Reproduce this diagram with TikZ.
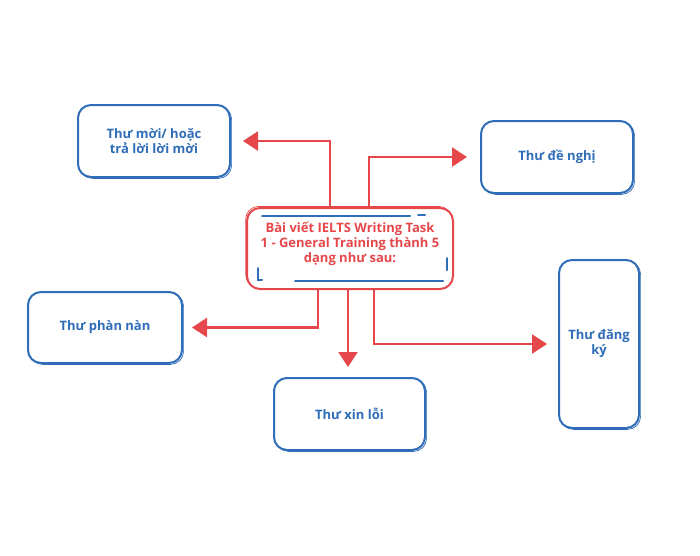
\documentclass[tikz,border=0pt]{standalone}
\usepackage{fontspec}
\setmainfont{Open Sans}
\usetikzlibrary{arrows.meta}
\definecolor{bblue}{HTML}{2F6DB8}
\definecolor{rred}{HTML}{E5474B}
\tikzset{
  box/.style={draw=bblue, line width=2pt, rounded corners=13pt, fill=white,
    text=bblue, font=\fontsize{13}{15}\selectfont\bfseries, align=center,
    preaction={draw=bblue, line width=0.7pt, transform canvas={shift={(1.6pt,-1.4pt)}}}},
  mainbox/.style={draw=rred, line width=2pt, rounded corners=13pt, fill=white,
    preaction={draw=rred, line width=0.7pt, transform canvas={shift={(-1.4pt,1.6pt)}}}},
  maintext/.style={text=rred, font=\fontsize{13}{15}\selectfont\bfseries, align=center},
  arr/.style={draw=rred, line width=2.4pt, -{Triangle[length=15pt,width=19pt]}},
  inner/.style={draw=bblue, line width=2pt, line cap=round}
}
\begin{document}
\begin{tikzpicture}[x=1pt,y=-1pt]
\useasboundingbox[fill=white] (0,0) rectangle (700,555);
\node[box, minimum width=152pt, minimum height=72pt] (a) at (154,141) {Thư mời/ hoặc\\trả lời lời mời};
\node[box, minimum width=152pt, minimum height=72pt] (b) at (557,157) {Thư đề nghị};
\node[box, minimum width=154pt, minimum height=71pt] (p) at (105,327.5) {Thư phàn nàn};
\node[box, minimum width=151pt, minimum height=72pt] (d) at (349.5,414) {Thư xin lỗi};
\node[box, minimum width=80pt, minimum height=168pt] (e) at (599,344) {Thư đăng\\ký};
\node[mainbox, minimum width=206pt, minimum height=81pt] (c) at (350,248.5) {};
\node[maintext] (ct) at (350,243.5) {Bài viết IELTS Writing Task\\1 - General Training thành 5\\dạng như sau:};
\draw[inner] (262,215.5) -- (410,215.5);
\draw[inner] (418,215) -- (425,215);
\draw[inner] (295,281) -- (443,281);
\draw[inner] (258,268) -- (258,280) -- (262,280);
\draw[inner] (447,258) -- (447,270);
\draw[arr] ([xshift=-20pt]c.north) |- ([xshift=12pt]a.east);
\draw[arr] ([xshift=19pt]c.north) |- ([xshift=-13pt]b.west);
\draw[arr] ([xshift=-32pt]c.south) |- ([xshift=9pt]p.east);
\draw[arr] ([xshift=-2pt]c.south) -- ([xshift=-1.5pt,yshift=10pt]d.north);
\draw[arr] ([xshift=24pt]c.south) |- ([xshift=-11pt]e.west);
\end{tikzpicture}
\end{document}
